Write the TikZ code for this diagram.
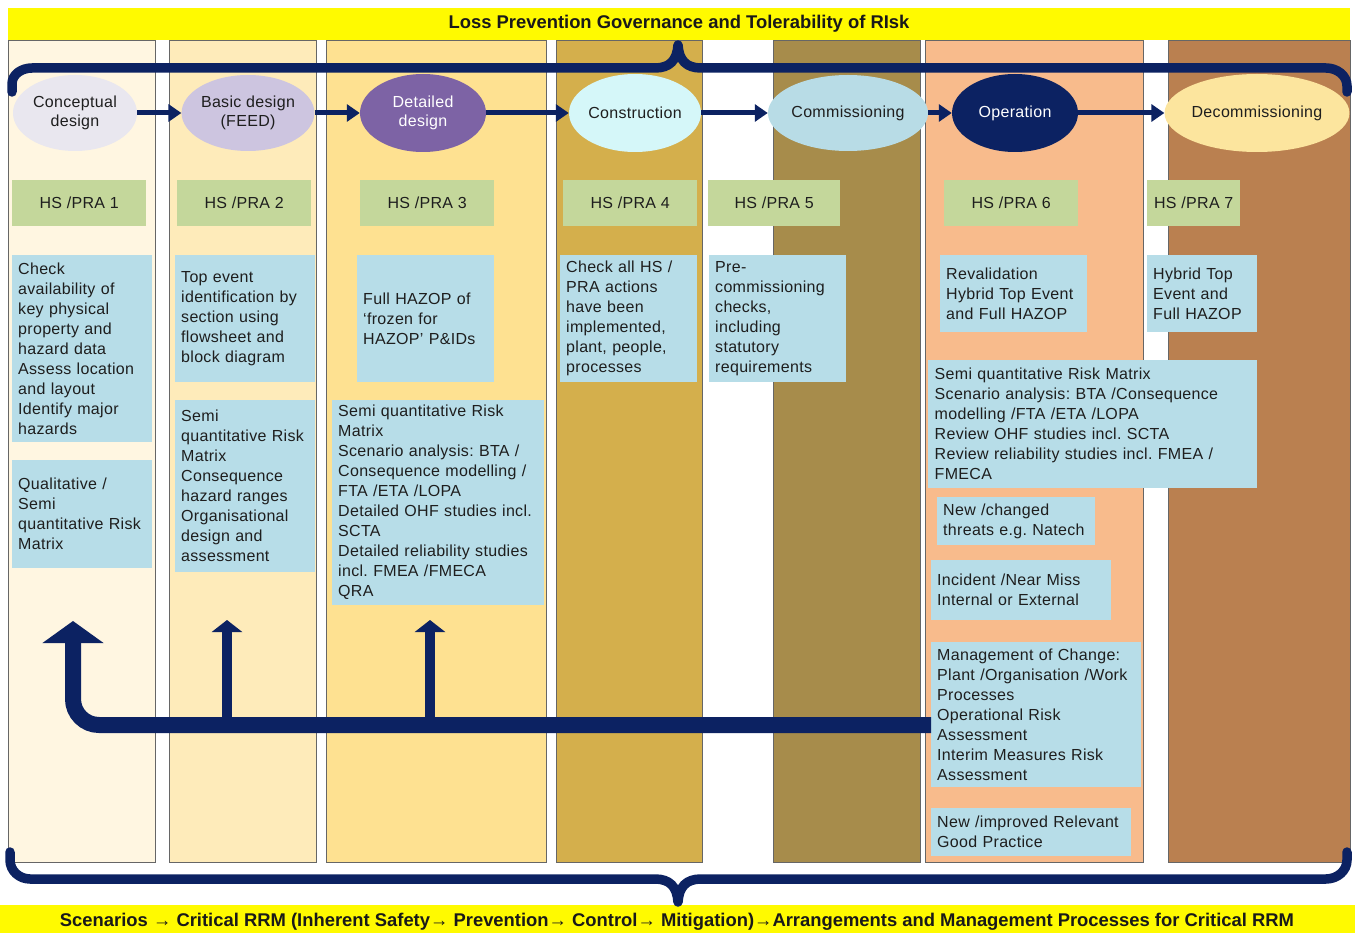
\documentclass[tikz,border=0pt]{standalone}
\usepackage{fontspec}
\setmainfont{Liberation Sans}[LetterSpace=2]
\newfontfamily\bannerfont{Liberation Sans}[BoldFont=* Bold]
\usetikzlibrary{arrows.meta,shapes.geometric}
\definecolor{NV}{RGB}{12,34,98}
\definecolor{TX}{RGB}{30,30,30}
\definecolor{BN}{RGB}{255,250,0}
\definecolor{C1}{RGB}{255,246,225}
\definecolor{C2}{RGB}{254,235,186}
\definecolor{C3}{RGB}{254,225,145}
\definecolor{C4}{RGB}{212,175,76}
\definecolor{C5}{RGB}{167,140,75}
\definecolor{C6}{RGB}{248,187,140}
\definecolor{C7}{RGB}{186,128,80}
\definecolor{E1}{RGB}{233,231,239}
\definecolor{E2}{RGB}{205,197,224}
\definecolor{E3}{RGB}{125,99,165}
\definecolor{E4}{RGB}{213,247,249}
\definecolor{E5}{RGB}{184,220,230}
\definecolor{E7}{RGB}{252,229,158}
\definecolor{GR}{RGB}{196,215,155}
\definecolor{BL}{RGB}{183,221,232}
\tikzset{
  colframe/.style={draw=black!60, line width=0.8pt},
  stage/.style={ellipse, inner sep=0pt, align=center, text=TX, font=\fontsize{16}{19}\selectfont},
  hsbox/.style={fill=GR, anchor=north west, minimum height=46pt, inner sep=0pt, text=TX, font=\fontsize{16}{20}\selectfont},
  info/.style={fill=BL, anchor=north west, align=left, inner xsep=6pt, inner ysep=0pt, text=TX, font=\fontsize{16}{20}\selectfont},
  flow/.style={NV, line width=5pt, -{Triangle[length=13pt,width=17pt]}},
  brace/.style={NV, line width=9.5pt, line cap=round, line join=round},
  banner/.style={font=\bannerfont\bfseries\fontsize{18.4}{20}\selectfont, text=black!90}
}
\begin{document}
\frenchspacing
\begin{tikzpicture}[x=1pt,y=-1pt]
      \useasboundingbox (0,0) rectangle (1355,933);
      \fill[white] (0,0) rectangle (1355,933);
      \draw[colframe, fill=C1] (8,40) rectangle (155,862);
      \draw[colframe, fill=C2] (169,40) rectangle (316,862);
      \draw[colframe, fill=C3] (326,40) rectangle (546,862);
      \draw[colframe, fill=C4] (556,40) rectangle (702,862);
      \draw[colframe, fill=C5] (773,40) rectangle (920,862);
      \draw[colframe, fill=C6] (925,40) rectangle (1143,862);
      \draw[colframe, fill=C7] (1168,40) rectangle (1350,862);
      \fill[BN] (8,8) rectangle (1350,40);
      \fill[BN] (0,905) rectangle (1355,933);
      \node[banner] (govern) at (679,24) {Loss Prevention Governance and Tolerability of RIsk};
      \node[banner] (scen) at (677,922) {Scenarios → Critical RRM (Inherent Safety→ Prevention→ Control→ Mitigation)→Arrangements and Management Processes for Critical RRM};
      \draw[brace] (12,92) -- (12,84) to[out=90,in=180] (32,68) -- (655,68) .. controls (670,68) and (677,60) .. (678,45) .. controls (679,60) and (686,68) .. (701,68) -- (1326,68) to[out=0,in=90] (1347,86) -- (1347,92);
      \draw[brace] (10,852) -- (10,860) to[out=-90,in=180] (30,879) -- (655,879) .. controls (670,879) and (677,887) .. (678,902) .. controls (679,887) and (686,879) .. (701,879) -- (1326,879) to[out=0,in=-90] (1347,860) -- (1347,852);
      \node[stage, fill=E1, minimum width=124pt, minimum height=76pt] (concept) at (75,113) {Conceptual\\design};
      \node[stage, fill=E2, minimum width=124pt, minimum height=76pt] (basic) at (248,113) {Basic design\\(FEED)};
      \node[stage, fill=E3, minimum width=126pt, minimum height=78pt, text=white] (detail) at (423,113) {Detailed\\design};
      \node[stage, fill=E4, minimum width=124pt, minimum height=78pt] (construct) at (635,113) {Construction};
      \node[stage, fill=E5, minimum width=150pt, minimum height=76pt] (commission) at (848,113) {Commissioning};
      \node[stage, fill=NV, minimum width=126pt, minimum height=78pt, text=white] (operate) at (1015,113) {Operation};
      \node[stage, fill=E7, minimum width=170pt, minimum height=78pt] (decommission) at (1257,113) {Decommissioning};
      \draw[flow] (concept) -- (basic);
      \draw[flow] (basic) -- (detail);
      \draw[flow] (detail) -- (construct);
      \draw[flow] (construct) -- (commission);
      \draw[flow] (commission) -- (operate);
      \draw[flow] (operate) -- (decommission);
      \node[hsbox, minimum width=134pt] (hs1) at (12,180) {HS /PRA 1};
      \node[hsbox, minimum width=134pt] (hs2) at (177,180) {HS /PRA 2};
      \node[hsbox, minimum width=134pt] (hs3) at (360,180) {HS /PRA 3};
      \node[hsbox, minimum width=134pt] (hs4) at (563,180) {HS /PRA 4};
      \node[hsbox, minimum width=132pt] (hs5) at (708,180) {HS /PRA 5};
      \node[hsbox, minimum width=134pt] (hs6) at (944,180) {HS /PRA 6};
      \node[hsbox, minimum width=93pt] (hs7) at (1147,180) {HS /PRA 7};
      \node[info, text width=128pt, minimum height=187pt] (check1) at (12,255) {Check\\availability of\\key physical\\property and\\hazard data\\Assess location\\and layout\\Identify major\\hazards};
      \node[info, text width=128pt, minimum height=108pt] (qual1) at (12,460) {Qualitative /\\Semi\\quantitative Risk\\Matrix};
      \node[info, text width=128pt, minimum height=127pt] (top2) at (175,255) {Top event\\identification by\\section using\\flowsheet and\\block diagram};
      \node[info, text width=128pt, minimum height=172pt] (semi2) at (175,400) {Semi\\quantitative Risk\\Matrix\\Consequence\\hazard ranges\\Organisational\\design and\\assessment};
      \node[info, text width=125pt, minimum height=127pt] (hazop3) at (357,255) {Full HAZOP of\\‘frozen for\\HAZOP’ P\&IDs};
      \node[info, text width=200pt, minimum height=205pt] (semi3) at (332,400) {Semi quantitative Risk\\Matrix\\Scenario analysis: BTA /\\Consequence modelling /\\FTA /ETA /LOPA\\Detailed OHF studies incl.\\SCTA\\Detailed reliability studies\\incl. FMEA /FMECA\\QRA};
      \node[info, text width=125pt, minimum height=127pt] (check4) at (560,255) {Check all HS /\\PRA actions\\have been\\implemented,\\plant, people,\\processes};
      \node[info, text width=125pt, minimum height=127pt] (pre5) at (709,255) {Pre-\\commissioning\\checks,\\including\\statutory\\requirements};
      \node[info, text width=135pt, minimum height=77pt] (reval6) at (940,255) {Revalidation\\Hybrid Top Event\\and Full HAZOP};
      \node[info, text width=98pt, minimum height=77pt] (hybrid7) at (1147,255) {Hybrid Top\\Event and\\Full HAZOP};
      \node[info, text width=316pt, minimum height=128pt, inner xsep=6.5pt] (semi6) at (928,360) {Semi quantitative Risk Matrix\\Scenario analysis: BTA /Consequence\\modelling /FTA /ETA /LOPA\\Review OHF studies incl. SCTA\\Review reliability studies incl. FMEA /\\FMECA};
      \node[info, text width=146pt, minimum height=48pt] (threat6) at (937,497) {New /changed\\threats e.g. Natech};
      \node[info, text width=168pt, minimum height=60pt] (incident6) at (931,560) {Incident /Near Miss\\Internal or External};
      \node[info, text width=198pt, minimum height=145pt] (moc6) at (931,642) {Management of Change:\\Plant /Organisation /Work\\Processes\\Operational Risk\\Assessment\\Interim Measures Risk\\Assessment};
      \node[info, text width=188pt, minimum height=48pt] (good6) at (931,808) {New /improved Relevant\\Good Practice};
      \coordinate (turn) at (73,725);
      \coordinate (tip1) at (73,621);
      \coordinate (join2) at (227,725);
      \coordinate (tip2) at (227,620);
      \coordinate (join3) at (430,725);
      \coordinate (tip3) at (430,620);
      \draw[NV, line width=10pt, -{Triangle[length=12pt,width=30pt]}] (join2) -- (tip2);
      \draw[NV, line width=10pt, -{Triangle[length=12pt,width=30pt]}] (join3) -- (tip3);
      \draw[NV, line width=16pt, rounded corners=26pt, -{Triangle[length=22pt,width=60pt]}] (moc6.west |- turn) -- (turn) -- (tip1);
\end{tikzpicture}
\end{document}
